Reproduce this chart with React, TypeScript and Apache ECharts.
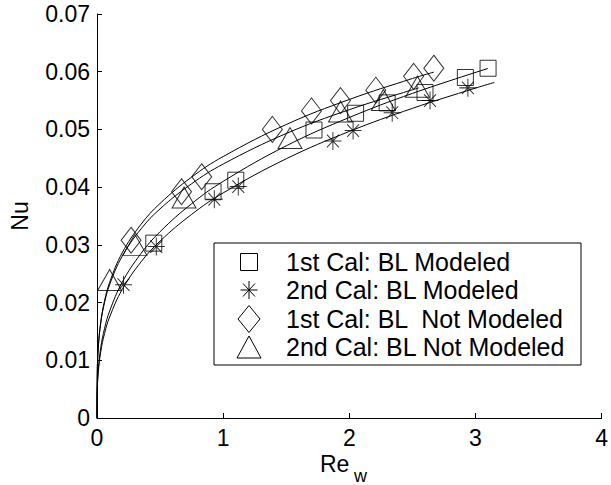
import React, { useEffect, useRef } from "react";
import * as echarts from "echarts";

// Measured points
const sqX = [0.45, 0.92, 1.10, 1.72, 2.05, 2.30, 2.60, 2.92, 3.10];
const sqY = [0.0303, 0.0392, 0.0412, 0.0499, 0.0528, 0.0546, 0.0564, 0.0590, 0.0606];
const starX = [0.21, 0.47, 0.93, 1.12, 1.87, 2.03, 2.34, 2.64, 2.94];
const starY = [0.0231, 0.0297, 0.0379, 0.0401, 0.0480, 0.0498, 0.0529, 0.0550, 0.0572];
const diaX = [0.27, 0.67, 0.83, 1.39, 1.70, 1.93, 2.21, 2.51, 2.67];
const diaY = [0.0308, 0.0392, 0.0418, 0.0500, 0.0532, 0.0550, 0.0568, 0.0592, 0.0606];
const triX = [0.10, 0.30, 0.69, 1.53, 1.93, 2.27, 2.54];
const triY = [0.0239, 0.0300, 0.0382, 0.0485, 0.0531, 0.0551, 0.0574];

// Fitted curves
const fitX = [0, 0.002, 0.01, 0.03, 0.06, 0.1, 0.2, 0.35, 0.5, 0.75, 1, 1.5, 2, 2.5];
const sqFitY = [0, 0.00481, 0.00837, 0.01223, 0.01553, 0.01852, 0.02353, 0.02854, 0.03228, 0.03713, 0.041, 0.04716, 0.05207, 0.05624];
const sqFitEnd = [3.1, 0.06057];
const starFitY = [0, 0.00449, 0.00785, 0.01151, 0.01465, 0.0175, 0.02228, 0.02707, 0.03065, 0.03528, 0.039, 0.04491, 0.04965, 0.05365];
const starFitEnd = [[3.0, 0.05716], [3.15, 0.05814]];
const diaFitY = [0, 0.00771, 0.01219, 0.01668, 0.02032, 0.0235, 0.02863, 0.03359, 0.03718, 0.04174, 0.0453, 0.05085, 0.05519, 0.05882];
const diaFitEnd = [2.67, 0.05993];
const triFitY = [0, 0.00772, 0.01212, 0.01648, 0.02002, 0.02309, 0.02804, 0.03279, 0.03624, 0.04059, 0.044, 0.04929, 0.05342, 0.05687];
const triFitEnd = [2.55, 0.05719];

const xTicks = [0, 1, 2, 3, 4];
const yTicks = [0, 0.01, 0.02, 0.03, 0.04, 0.05, 0.06, 0.07];

const legendNames = [
  "1st Cal: BL Modeled",
  "2nd Cal: BL Modeled",
  "1st Cal: BL  Not Modeled",
  "2nd Cal: BL Not Modeled",
];

const FONT = "'Liberation Sans', Arial, Helvetica, sans-serif";

const SQ = "path://M0,0 L10,0 L10,10 L0,10 Z";
const STAR = "path://M5,0 L5,10 M0,5 L10,5 M1.5,1.5 L8.5,8.5 M1.5,8.5 L8.5,1.5";
const DIA = "path://M10,0 L20,13 L10,26 L0,13 Z";
const TRI = "path://M10,0 L20,17 L0,17 Z";

const zip = (xs: number[], ys: number[]) => xs.map((x, i) => [x, ys[i]]);

export default function App() {
  const ref = useRef<HTMLDivElement>(null);
  useEffect(() => {
    if (!ref.current) return;
    const chart = echarts.init(ref.current, undefined, { renderer: "svg" });
    const hollow = { color: "rgba(0,0,0,0)", borderColor: "#000", borderWidth: 1 };
    const line = (ys: number[], end: number[][]) => ({
      type: "line",
      data: [...zip(fitX, ys), ...end],
      showSymbol: false,
      smooth: 0.4,
      lineStyle: { color: "#000", width: 1 },
      z: 1,
      silent: true,
    });
    const lx = 249;
    const rows = [262, 290, 319, 347];
    chart.setOption({
      animation: false,
      backgroundColor: "#fff",
      textStyle: { fontFamily: FONT },
      grid: { left: 92, right: 6, top: 14, bottom: 67, containLabel: false },
      xAxis: {
        type: "value",
        min: xTicks[0],
        max: xTicks[xTicks.length - 1],
        interval: 1,
        axisLine: { lineStyle: { color: "#000", width: 1 } },
        axisTick: { inside: true, length: 5, lineStyle: { color: "#000" } },
        axisLabel: { color: "#000", fontSize: 23, margin: 8, fontFamily: FONT },
        splitLine: { show: false },
      },
      yAxis: {
        type: "value",
        min: yTicks[0],
        max: yTicks[yTicks.length - 1],
        interval: 0.01,
        axisLine: { show: true, lineStyle: { color: "#000", width: 1 } },
        axisTick: { show: true, inside: true, length: 5, lineStyle: { color: "#000" } },
        axisLabel: {
          color: "#000",
          fontSize: 23,
          margin: 7,
          fontFamily: FONT,
          formatter: (v: number) => (v === 0 ? "0" : v.toFixed(2)),
        },
        splitLine: { show: false },
        name: "Nu",
        nameLocation: "middle",
        nameGap: 66,
        nameTextStyle: { color: "#000", fontSize: 23, fontFamily: FONT },
      },
      series: [
        line(sqFitY, [sqFitEnd]),
        line(starFitY, starFitEnd),
        line(diaFitY, [diaFitEnd]),
        line(triFitY, [triFitEnd]),
        { type: "scatter", name: legendNames[0], data: zip(sqX, sqY), symbol: SQ, symbolSize: [16, 16], itemStyle: hollow, z: 3 },
        { type: "scatter", name: legendNames[1], data: zip(starX, starY), symbol: STAR, symbolSize: [17, 18], itemStyle: hollow, z: 3 },
        { type: "scatter", name: legendNames[2], data: zip(diaX, diaY), symbol: DIA, symbolSize: [20, 26], itemStyle: hollow, z: 3 },
        { type: "scatter", name: legendNames[3], data: zip(triX, triY), symbol: TRI, symbolSize: [24, 21], itemStyle: hollow, z: 3 },
      ],
      graphic: [
        {
          type: "text",
          left: 320,
          top: 452,
          style: { text: "Re", fontSize: 23, fontFamily: FONT, fill: "#000" },
        },
        {
          type: "text",
          left: 354,
          top: 467,
          style: { text: "w", fontSize: 18, fontFamily: FONT, fill: "#000" },
        },
        {
          type: "rect",
          shape: { x: 214, y: 243, width: 367, height: 122 },
          style: { fill: "#fff", stroke: "#000", lineWidth: 1 },
          z: 10,
        },
        {
          type: "rect",
          shape: { x: lx - 8.5, y: rows[0] - 8.5, width: 17, height: 17 },
          style: { fill: "none", stroke: "#000", lineWidth: 1 },
          z: 11,
        },
        {
          type: "group",
          z: 11,
          children: [
            { type: "line", shape: { x1: lx, y1: rows[1] - 9, x2: lx, y2: rows[1] + 9 }, style: { stroke: "#000", lineWidth: 1 }, z: 11 },
            { type: "line", shape: { x1: lx - 8.5, y1: rows[1], x2: lx + 8.5, y2: rows[1] }, style: { stroke: "#000", lineWidth: 1 }, z: 11 },
            { type: "line", shape: { x1: lx - 6, y1: rows[1] - 6.5, x2: lx + 6, y2: rows[1] + 6.5 }, style: { stroke: "#000", lineWidth: 1 }, z: 11 },
            { type: "line", shape: { x1: lx - 6, y1: rows[1] + 6.5, x2: lx + 6, y2: rows[1] - 6.5 }, style: { stroke: "#000", lineWidth: 1 }, z: 11 },
          ],
        },
        {
          type: "polygon",
          shape: { points: [[lx, rows[2] - 13.5], [lx + 11, rows[2]], [lx, rows[2] + 13.5], [lx - 11, rows[2]]] },
          style: { fill: "none", stroke: "#000", lineWidth: 1 },
          z: 11,
        },
        {
          type: "polygon",
          shape: { points: [[lx, rows[3] - 11], [lx + 12, rows[3] + 11], [lx - 12, rows[3] + 11]] },
          style: { fill: "none", stroke: "#000", lineWidth: 1 },
          z: 11,
        },
        ...legendNames.map((t, i) => ({
          type: "text",
          x: 286,
          y: rows[i],
          z: 11,
          style: { text: t, fontSize: 25, fontFamily: FONT, fill: "#000", verticalAlign: "middle" },
        })),
      ],
    });
    return () => chart.dispose();
  }, []);
  return (
    <div
      ref={ref}
      style={{ position: "fixed", left: 0, top: 0, width: 611, height: 485 }}
    />
  );
}
